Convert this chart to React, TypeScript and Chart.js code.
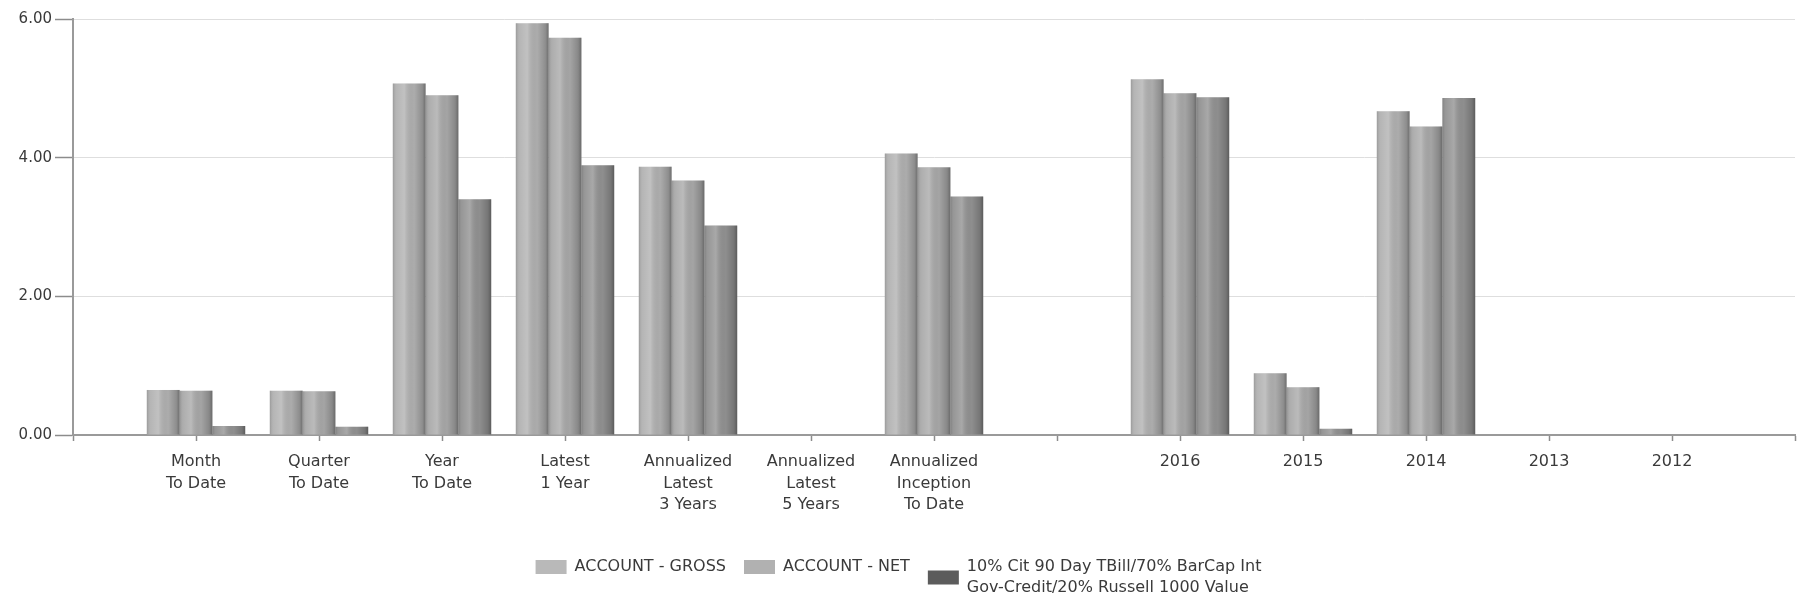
import React, { useEffect, useRef } from 'react';
import { Chart, registerables } from 'chart.js';

Chart.register(...registerables);

const FONT = '"DejaVu Sans", Verdana, sans-serif';

const categories: (string | string[])[] = [
  '',
  ['Month', 'To Date'],
  ['Quarter', 'To Date'],
  ['Year', 'To Date'],
  ['Latest', '1 Year'],
  ['Annualized', 'Latest', '3 Years'],
  ['Annualized', 'Latest', '5 Years'],
  ['Annualized', 'Inception', 'To Date'],
  '',
  '2016',
  '2015',
  '2014',
  '2013',
  '2012',
  '',
];

const grossValues = [null, 0.65, 0.64, 5.07, 5.94, 3.87, null, 4.06, null, 5.13, 0.89, 4.67, null, null, null];
const netValues = [null, 0.64, 0.63, 4.9, 5.73, 3.67, null, 3.86, null, 4.93, 0.69, 4.45, null, null, null];
const benchValues = [null, 0.13, 0.12, 3.4, 3.89, 3.02, null, 3.44, null, 4.87, 0.09, 4.86, null, null, null];

const seriesNames = ['ACCOUNT - GROSS', 'ACCOUNT - NET', '10% Cit 90 Day TBill/70% BarCap Int Gov-Credit/20% Russell 1000 Value'];
const legendLines: string[][] = [
  ['ACCOUNT - GROSS'],
  ['ACCOUNT - NET'],
  ['10% Cit 90 Day TBill/70% BarCap Int', 'Gov-Credit/20% Russell 1000 Value'],
];
const barColors = ['#b2b2b2', '#aaaaaa', '#939393'];
const legendColors = ['#b9b9b9', '#b1b1b1', '#5c5c5c'];
const yTicks = [0, 2, 4, 6];

const LEGEND_FONT_SIZE = 16;
const LEGEND_LINE = 21;
const BOX_W = 31;
const BOX_H = 14;

const cylinderPlugin = {
  id: 'cylinder',
  afterDatasetsDraw(chart: any) {
    const ctx = chart.ctx;
    const area = chart.chartArea;
    ctx.save();
    ctx.beginPath();
    ctx.rect(area.left, area.top - 2, area.right - area.left, area.bottom - area.top + 2);
    ctx.clip();
    chart.data.datasets.forEach((_ds: any, di: number) => {
      const meta = chart.getDatasetMeta(di);
      meta.data.forEach((el: any) => {
        const { x, y, base, width } = el.getProps(['x', 'y', 'base', 'width'], true);
        if (!Number.isFinite(y) || !Number.isFinite(x)) return;
        const left = x - width / 2;
        const g = ctx.createLinearGradient(left, 0, left + width, 0);
        g.addColorStop(0, 'rgba(0,0,0,0.14)');
        g.addColorStop(0.12, 'rgba(255,255,255,0.05)');
        g.addColorStop(0.35, 'rgba(255,255,255,0.20)');
        g.addColorStop(0.65, 'rgba(0,0,0,0.03)');
        g.addColorStop(0.9, 'rgba(0,0,0,0.20)');
        g.addColorStop(1, 'rgba(0,0,0,0.38)');
        ctx.fillStyle = g;
        ctx.fillRect(left, Math.min(y, base), width, Math.abs(base - y));
      });
    });
    ctx.restore();
  },
};

// Adds continuation lines to multi-line legend entries and centres their boxes.
const legendExtraPlugin = {
  id: 'legendExtra',
  afterDraw(chart: any) {
    const leg = chart.legend;
    if (!leg || !leg.legendHitBoxes) return;
    const ctx = chart.ctx;
    ctx.save();
    ctx.font = `${LEGEND_FONT_SIZE}px ${FONT}`;
    ctx.textBaseline = 'middle';
    ctx.textAlign = 'left';
    ctx.fillStyle = '#3a3a3a';
    leg.legendHitBoxes.forEach((hb: any, i: number) => {
      const lines = legendLines[i];
      if (!lines || lines.length < 2) return;
      const firstY = hb.top + hb.height / 2;
      const textX = hb.left + BOX_W + LEGEND_FONT_SIZE / 2;
      for (let k = 1; k < lines.length; k++) {
        ctx.fillText(lines[k], textX, firstY + k * LEGEND_LINE);
      }
      const midY = firstY + ((lines.length - 1) * LEGEND_LINE) / 2;
      ctx.fillStyle = legendColors[i];
      ctx.fillRect(hb.left, midY - BOX_H / 2, BOX_W, BOX_H);
      ctx.fillStyle = '#3a3a3a';
    });
    ctx.restore();
  },
};

export default function App() {
  const ref = useRef<HTMLCanvasElement | null>(null);

  useEffect(() => {
    if (!ref.current) return;
    const seriesValues = [grossValues, netValues, benchValues];
    const chart = new Chart(ref.current, {
      type: 'bar',
      data: {
        labels: categories as any,
        datasets: seriesValues.map((vals, i) => ({
          label: seriesNames[i],
          data: vals as any,
          backgroundColor: barColors[i],
          borderWidth: 0,
          categoryPercentage: 0.8,
          barPercentage: 1.0,
        })),
      },
      options: {
        responsive: false,
        animation: false,
        devicePixelRatio: 1,
        layout: { padding: { top: 19, right: 8, left: 0, bottom: 17 } },
        plugins: {
          tooltip: { enabled: false },
          legend: {
            position: 'bottom',
            labels: {
              boxWidth: BOX_W,
              boxHeight: BOX_H,
              padding: 18,
              color: '#3a3a3a',
              font: { family: FONT, size: LEGEND_FONT_SIZE, lineHeight: 1.3 },
              generateLabels: (c: any) => {
                const items = (Chart.defaults as any).plugins.legend.labels.generateLabels(c);
                return items.map((it: any, i: number) => {
                  const multi = legendLines[i].length > 1;
                  return {
                    ...it,
                    text: legendLines[i][0],
                    fillStyle: multi ? 'rgba(0,0,0,0)' : legendColors[i],
                    strokeStyle: multi ? 'rgba(0,0,0,0)' : legendColors[i],
                    lineWidth: 0,
                  };
                });
              },
            },
          },
        },
        scales: {
          x: {
            offset: false,
            grid: {
              display: true,
              offset: false,
              drawOnChartArea: false,
              drawTicks: true,
              tickLength: 6,
              tickColor: '#8c8c8c',
              tickWidth: 1.5,
            },
            border: { display: true, color: '#9a9a9a', width: 2 },
            ticks: {
              color: '#3a3a3a',
              font: { family: FONT, size: 16, lineHeight: 1.35 },
              padding: 10,
              maxRotation: 0,
              minRotation: 0,
              autoSkip: false,
            },
            afterFit: (s: any) => {
              s.height = 106;
            },
          },
          y: {
            min: 0,
            max: 6,
            afterBuildTicks: (s: any) => {
              s.ticks = yTicks.map((v) => ({ value: v }));
            },
            ticks: {
              color: '#3a3a3a',
              font: { family: FONT, size: 15 },
              padding: 3,
              callback: (v: any) => Number(v).toFixed(2),
            },
            grid: {
              color: '#dedede',
              lineWidth: 1,
              tickLength: 18,
              tickColor: '#8c8c8c',
              tickWidth: 1.5,
            },
            border: { color: '#9a9a9a', width: 2 },
            afterFit: (s: any) => {
              s.width = 73;
            },
          },
        },
      },
      plugins: [cylinderPlugin, legendExtraPlugin],
    });
    return () => chart.destroy();
  }, []);

  return (
    <div style={{ position: 'absolute', left: 0, top: 0, width: 1805, height: 602, background: '#fff' }}>
      <canvas ref={ref} width={1805} height={602} style={{ display: 'block' }} />
    </div>
  );
}
